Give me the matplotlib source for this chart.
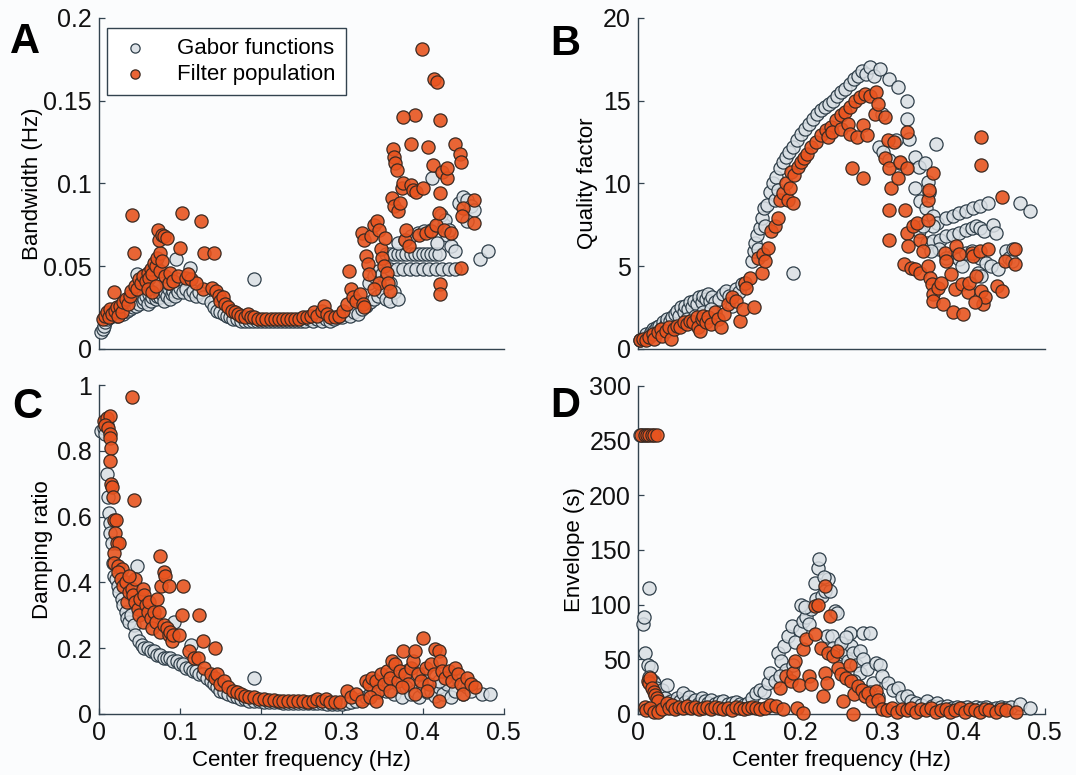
import numpy as np
import matplotlib
matplotlib.use("Agg")
import matplotlib.pyplot as plt

# (center frequency Hz, value) pairs

# A: bandwidth (Hz)
a_gabor = [
    (0.003, 0.010), (0.005, 0.012), (0.006, 0.014), (0.008, 0.016), (0.010, 0.018), (0.012, 0.020),
    (0.014, 0.019), (0.016, 0.022), (0.018, 0.021), (0.020, 0.023), (0.022, 0.020), (0.024, 0.024),
    (0.026, 0.022), (0.028, 0.025), (0.030, 0.021), (0.032, 0.026), (0.034, 0.023), (0.036, 0.027),
    (0.038, 0.024), (0.040, 0.028), (0.042, 0.025), (0.044, 0.029), (0.046, 0.026), (0.048, 0.030),
    (0.050, 0.027), (0.052, 0.031), (0.054, 0.028), (0.056, 0.030), (0.058, 0.032), (0.060, 0.027),
    (0.062, 0.033), (0.064, 0.029), (0.066, 0.031), (0.068, 0.034), (0.070, 0.030), (0.072, 0.032),
    (0.074, 0.035), (0.076, 0.031), (0.078, 0.033), (0.080, 0.029), (0.082, 0.034), (0.084, 0.032),
    (0.086, 0.036), (0.088, 0.030), (0.090, 0.033), (0.092, 0.035), (0.094, 0.032), (0.096, 0.036),
    (0.098, 0.034), (0.100, 0.037), (0.104, 0.034), (0.108, 0.036), (0.112, 0.033), (0.116, 0.035),
    (0.120, 0.032), (0.124, 0.034), (0.128, 0.031), (0.047, 0.045), (0.056, 0.044), (0.062, 0.046),
    (0.095, 0.054), (0.113, 0.049), (0.097, 0.042), (0.085, 0.040), (0.068, 0.038),
    (0.138, 0.028), (0.142, 0.025), (0.146, 0.023), (0.150, 0.022), (0.154, 0.021), (0.158, 0.020),
    (0.162, 0.019), (0.166, 0.018), (0.170, 0.018), (0.175, 0.017), (0.180, 0.017), (0.185, 0.017),
    (0.190, 0.017), (0.195, 0.017), (0.200, 0.017), (0.205, 0.017), (0.210, 0.017), (0.215, 0.017),
    (0.220, 0.017), (0.225, 0.017), (0.230, 0.017), (0.235, 0.017), (0.240, 0.017), (0.245, 0.017),
    (0.250, 0.017), (0.255, 0.017), (0.260, 0.018), (0.265, 0.017), (0.270, 0.018), (0.275, 0.017),
    (0.280, 0.018), (0.285, 0.017), (0.290, 0.018), (0.295, 0.019), (0.191, 0.042),
    (0.300, 0.019), (0.305, 0.021), (0.310, 0.020), (0.315, 0.022), (0.320, 0.021), (0.325, 0.024),
    (0.330, 0.026), (0.335, 0.028), (0.340, 0.030), (0.345, 0.032), (0.350, 0.034), (0.355, 0.030),
    (0.360, 0.029), (0.334, 0.040), (0.340, 0.044), (0.345, 0.047), (0.350, 0.045), (0.355, 0.043),
    (0.355, 0.057), (0.360, 0.057), (0.365, 0.057), (0.370, 0.057), (0.375, 0.057), (0.380, 0.057),
    (0.385, 0.057), (0.390, 0.057), (0.395, 0.057), (0.400, 0.057), (0.405, 0.057), (0.410, 0.057),
    (0.415, 0.057), (0.420, 0.057), (0.360, 0.048), (0.368, 0.048), (0.376, 0.048), (0.384, 0.048),
    (0.392, 0.048), (0.400, 0.048), (0.408, 0.048), (0.416, 0.048), (0.424, 0.048), (0.432, 0.048),
    (0.440, 0.048), (0.370, 0.064), (0.378, 0.066), (0.386, 0.068), (0.394, 0.070), (0.402, 0.071),
    (0.410, 0.072), (0.418, 0.074), (0.426, 0.075), (0.430, 0.069), (0.412, 0.103), (0.435, 0.062),
    (0.440, 0.059), (0.445, 0.088), (0.450, 0.092), (0.455, 0.090), (0.460, 0.086), (0.455, 0.077),
    (0.463, 0.084), (0.471, 0.054), (0.481, 0.059), (0.423, 0.081), (0.428, 0.078), (0.432, 0.072),
    (0.418, 0.064), (0.360, 0.040), (0.365, 0.034), (0.370, 0.030),
]
a_filter = [
    (0.005, 0.018), (0.008, 0.020), (0.010, 0.022), (0.012, 0.019), (0.014, 0.024), (0.016, 0.021),
    (0.018, 0.034), (0.020, 0.023), (0.022, 0.025), (0.024, 0.020), (0.026, 0.026), (0.028, 0.022),
    (0.030, 0.028), (0.033, 0.030), (0.036, 0.027), (0.038, 0.032), (0.041, 0.081), (0.043, 0.058),
    (0.040, 0.035), (0.044, 0.038), (0.047, 0.036), (0.050, 0.042), (0.052, 0.040), (0.055, 0.044),
    (0.058, 0.041), (0.060, 0.046), (0.062, 0.043), (0.064, 0.048), (0.066, 0.045), (0.068, 0.052),
    (0.070, 0.050), (0.072, 0.055), (0.073, 0.072), (0.075, 0.058), (0.074, 0.066), (0.078, 0.069),
    (0.080, 0.068), (0.084, 0.067), (0.076, 0.047), (0.078, 0.053), (0.082, 0.044), (0.086, 0.040),
    (0.088, 0.046), (0.092, 0.041), (0.060, 0.036), (0.066, 0.034), (0.070, 0.038), (0.100, 0.061),
    (0.103, 0.082), (0.098, 0.044), (0.108, 0.043), (0.114, 0.042), (0.126, 0.077), (0.130, 0.058),
    (0.142, 0.058), (0.128, 0.036), (0.120, 0.040), (0.110, 0.045),
    (0.140, 0.037), (0.145, 0.035), (0.148, 0.032), (0.150, 0.029), (0.153, 0.031), (0.156, 0.027),
    (0.160, 0.025), (0.164, 0.023), (0.168, 0.022), (0.172, 0.021), (0.176, 0.020), (0.180, 0.019),
    (0.184, 0.021), (0.188, 0.019), (0.192, 0.019), (0.197, 0.018), (0.202, 0.018), (0.207, 0.018),
    (0.212, 0.018), (0.217, 0.018), (0.222, 0.018), (0.227, 0.018), (0.232, 0.018), (0.237, 0.018),
    (0.242, 0.018), (0.247, 0.018), (0.252, 0.019), (0.257, 0.019), (0.262, 0.020), (0.266, 0.022),
    (0.270, 0.020), (0.275, 0.023), (0.278, 0.026), (0.282, 0.021), (0.286, 0.019), (0.292, 0.019),
    (0.296, 0.020), (0.302, 0.023), (0.306, 0.027), (0.309, 0.047), (0.311, 0.036), (0.314, 0.031),
    (0.318, 0.029), (0.322, 0.033), (0.326, 0.027), (0.328, 0.025), (0.325, 0.070), (0.327, 0.066),
    (0.330, 0.056), (0.332, 0.051), (0.334, 0.045), (0.336, 0.068), (0.340, 0.075), (0.343, 0.077),
    (0.346, 0.072), (0.348, 0.060), (0.350, 0.055), (0.352, 0.050), (0.346, 0.040), (0.340, 0.036),
    (0.354, 0.067), (0.356, 0.046), (0.357, 0.040), (0.360, 0.035), (0.362, 0.091), (0.364, 0.086),
    (0.363, 0.121), (0.364, 0.116), (0.366, 0.112), (0.368, 0.108), (0.370, 0.083), (0.372, 0.088),
    (0.374, 0.097), (0.376, 0.100), (0.378, 0.066), (0.380, 0.072), (0.383, 0.062), (0.385, 0.099),
    (0.388, 0.096), (0.390, 0.141), (0.376, 0.140), (0.386, 0.124), (0.392, 0.095), (0.395, 0.069),
    (0.399, 0.181), (0.400, 0.097), (0.404, 0.070), (0.407, 0.122), (0.410, 0.071), (0.413, 0.111),
    (0.414, 0.163), (0.418, 0.161), (0.416, 0.075), (0.420, 0.082), (0.421, 0.138), (0.422, 0.094),
    (0.422, 0.039), (0.422, 0.033), (0.424, 0.107), (0.426, 0.072), (0.430, 0.103), (0.430, 0.109),
    (0.440, 0.124), (0.446, 0.118), (0.447, 0.113), (0.447, 0.049), (0.450, 0.085), (0.449, 0.080),
    (0.463, 0.090), (0.463, 0.076), (0.435, 0.070),
]

# B: quality factor
b_gabor = [
    (0.002, 0.5), (0.005, 0.6), (0.008, 0.7), (0.010, 0.9), (0.013, 0.8), (0.016, 1.0), (0.018, 1.2),
    (0.020, 1.1), (0.023, 1.3), (0.026, 1.4), (0.028, 1.2), (0.031, 1.6), (0.034, 1.5), (0.036, 1.8),
    (0.039, 1.7), (0.042, 1.9), (0.045, 2.1), (0.048, 2.3), (0.050, 2.0), (0.053, 2.5), (0.056, 2.2),
    (0.058, 2.6), (0.061, 2.4), (0.064, 2.8), (0.066, 2.5), (0.069, 2.9), (0.072, 2.7), (0.075, 3.1),
    (0.078, 2.8), (0.080, 3.2), (0.083, 3.0), (0.086, 3.3), (0.088, 2.9), (0.091, 3.1), (0.095, 2.8),
    (0.100, 3.0), (0.104, 3.3), (0.108, 3.5), (0.112, 3.2), (0.116, 2.6), (0.120, 3.6), (0.124, 3.4),
    (0.128, 3.9), (0.132, 4.0), (0.060, 1.8), (0.070, 2.0), (0.080, 2.2), (0.090, 2.4), (0.190, 4.6),
    (0.140, 5.3), (0.142, 5.9), (0.144, 6.4), (0.146, 6.9), (0.150, 7.3), (0.152, 7.9), (0.155, 8.5),
    (0.158, 8.7), (0.162, 9.5), (0.166, 10.0), (0.170, 10.4), (0.174, 10.9), (0.178, 11.3),
    (0.182, 11.6), (0.186, 11.9), (0.190, 12.2), (0.195, 12.6), (0.200, 13.0), (0.205, 13.3),
    (0.210, 13.6), (0.215, 13.9), (0.220, 14.2), (0.225, 14.4), (0.230, 14.6), (0.235, 14.8),
    (0.240, 15.0), (0.245, 15.3), (0.250, 15.5), (0.255, 15.7), (0.260, 16.0), (0.265, 16.3),
    (0.270, 16.5), (0.275, 16.8), (0.280, 16.6), (0.285, 17.0), (0.290, 16.5), (0.297, 16.9),
    (0.168, 9.0), (0.172, 9.6), (0.148, 6.0), (0.156, 7.4),
    (0.309, 16.3), (0.319, 15.8), (0.331, 15.0), (0.331, 13.9), (0.333, 12.7), (0.341, 11.6),
    (0.345, 11.0), (0.353, 11.2), (0.356, 10.1), (0.366, 12.4), (0.296, 12.2), (0.301, 11.9),
    (0.309, 11.4), (0.322, 11.2), (0.340, 9.7), (0.346, 8.9), (0.354, 8.5), (0.362, 8.0),
    (0.368, 7.6), (0.300, 14.2), (0.317, 12.6), (0.358, 9.5), (0.362, 7.4),
    (0.355, 6.4), (0.363, 6.5), (0.371, 6.6), (0.379, 6.8), (0.387, 6.9), (0.395, 7.0), (0.403, 7.2),
    (0.411, 7.3), (0.415, 7.4), (0.420, 7.3), (0.425, 7.1), (0.379, 7.9), (0.387, 8.0), (0.395, 8.2),
    (0.403, 8.3), (0.412, 8.5), (0.420, 8.6), (0.430, 8.8), (0.469, 8.8), (0.482, 8.3), (0.436, 7.5),
    (0.440, 7.0), (0.387, 5.6), (0.395, 5.4), (0.403, 5.8), (0.411, 5.9), (0.420, 5.5), (0.428, 5.2),
    (0.434, 5.0), (0.442, 4.8), (0.452, 5.9), (0.456, 5.5), (0.460, 5.3), (0.398, 5.0), (0.418, 4.6),
    (0.422, 4.4), (0.370, 6.0), (0.345, 7.1), (0.350, 7.4), (0.360, 5.9), (0.378, 5.5), (0.461, 6.0),
]
b_filter = [
    (0.002, 0.5), (0.006, 0.6), (0.010, 0.5), (0.014, 0.7), (0.018, 0.9), (0.020, 0.6), (0.024, 1.0),
    (0.028, 1.2), (0.030, 0.8), (0.034, 1.1), (0.038, 1.3), (0.041, 0.56), (0.044, 1.2), (0.048, 1.4),
    (0.052, 1.3), (0.056, 1.6), (0.060, 1.5), (0.064, 1.7), (0.068, 1.6), (0.072, 1.9), (0.074, 1.3),
    (0.076, 1.1), (0.078, 1.8), (0.080, 2.0), (0.084, 1.6), (0.086, 1.9), (0.090, 1.5), (0.094, 2.2),
    (0.098, 1.8), (0.102, 1.3), (0.106, 2.1), (0.111, 2.7), (0.115, 3.1), (0.121, 2.9), (0.125, 1.7),
    (0.129, 2.4), (0.131, 4.0), (0.138, 4.3), (0.143, 2.5), (0.133, 3.7), (0.152, 4.6), (0.148, 5.5),
    (0.154, 5.7), (0.160, 6.1), (0.156, 5.3), (0.164, 7.1), (0.168, 7.4), (0.172, 7.9), (0.174, 9.0),
    (0.178, 9.4), (0.182, 10.0), (0.184, 9.0), (0.187, 9.7), (0.190, 8.8), (0.188, 10.7),
    (0.192, 10.5), (0.196, 11.0), (0.200, 11.3), (0.204, 11.5), (0.208, 11.8), (0.213, 12.2),
    (0.219, 12.5), (0.225, 12.9), (0.231, 13.2), (0.237, 13.4), (0.243, 13.8), (0.249, 14.1),
    (0.255, 14.3), (0.261, 14.6), (0.267, 15.0), (0.273, 15.2), (0.279, 15.4), (0.285, 15.3),
    (0.293, 15.5), (0.233, 12.8), (0.238, 13.1), (0.250, 13.3), (0.258, 13.6), (0.261, 13.0),
    (0.269, 12.8), (0.277, 13.5), (0.281, 12.9), (0.263, 10.9), (0.276, 10.3), (0.291, 14.2),
    (0.295, 14.8), (0.303, 14.0),
    (0.307, 12.6), (0.315, 12.5), (0.303, 11.5), (0.309, 10.9), (0.311, 9.7), (0.319, 10.3),
    (0.322, 11.3), (0.330, 10.9), (0.330, 13.1), (0.309, 8.4), (0.309, 6.6), (0.328, 8.4), (0.330, 7.0),
    (0.332, 6.2), (0.327, 5.1), (0.335, 4.9), (0.341, 4.8), (0.347, 4.6), (0.338, 7.4), (0.343, 7.6),
    (0.346, 6.6), (0.350, 5.9), (0.356, 5.0), (0.357, 9.0), (0.357, 7.8), (0.362, 10.6), (0.358, 9.6),
    (0.359, 4.3), (0.361, 3.9), (0.363, 3.3), (0.363, 2.9), (0.369, 3.7), (0.375, 2.7), (0.377, 5.8),
    (0.379, 5.3), (0.387, 2.2), (0.389, 3.6), (0.391, 6.2), (0.399, 2.1), (0.398, 3.9), (0.405, 3.4),
    (0.407, 4.0), (0.410, 5.8), (0.412, 5.6), (0.416, 4.4), (0.420, 5.9), (0.422, 3.5), (0.424, 2.7),
    (0.426, 3.1), (0.414, 2.8), (0.430, 6.0), (0.422, 12.8), (0.422, 11.1), (0.447, 9.2), (0.441, 3.8),
    (0.447, 3.5), (0.451, 5.3), (0.463, 6.0), (0.463, 5.1), (0.395, 5.7), (0.385, 4.5), (0.372, 4.0),
]

# C: damping ratio
c_gabor = [
    (0.002, 0.86), (0.006, 0.87), (0.008, 0.85), (0.010, 0.88), (0.010, 0.73), (0.011, 0.66),
    (0.012, 0.61), (0.013, 0.58), (0.014, 0.55), (0.016, 0.52), (0.017, 0.46), (0.019, 0.42),
    (0.021, 0.41), (0.023, 0.39), (0.025, 0.37), (0.028, 0.35), (0.030, 0.33), (0.033, 0.31),
    (0.035, 0.29), (0.037, 0.28), (0.040, 0.30), (0.043, 0.27), (0.047, 0.45), (0.045, 0.24),
    (0.050, 0.22), (0.053, 0.21), (0.056, 0.20), (0.060, 0.20), (0.064, 0.19), (0.068, 0.19),
    (0.072, 0.18), (0.076, 0.18), (0.080, 0.17), (0.084, 0.17), (0.088, 0.17), (0.092, 0.16),
    (0.096, 0.16), (0.100, 0.15), (0.104, 0.15), (0.108, 0.14), (0.112, 0.14), (0.114, 0.21),
    (0.093, 0.28), (0.116, 0.13), (0.120, 0.13), (0.124, 0.12), (0.128, 0.12), (0.134, 0.11),
    (0.138, 0.10), (0.142, 0.09), (0.146, 0.08), (0.150, 0.07), (0.155, 0.065), (0.160, 0.06),
    (0.165, 0.055), (0.170, 0.05), (0.175, 0.045), (0.180, 0.045), (0.185, 0.04), (0.192, 0.109),
    (0.192, 0.040), (0.198, 0.038), (0.204, 0.037), (0.210, 0.036), (0.216, 0.035), (0.222, 0.035),
    (0.228, 0.034), (0.234, 0.034), (0.240, 0.034), (0.246, 0.034), (0.252, 0.033), (0.258, 0.033),
    (0.264, 0.033), (0.270, 0.032), (0.276, 0.032), (0.282, 0.031), (0.288, 0.031), (0.294, 0.030),
    (0.300, 0.031), (0.306, 0.034), (0.312, 0.036), (0.318, 0.040), (0.324, 0.045),
    (0.330, 0.050), (0.335, 0.060), (0.340, 0.070), (0.345, 0.065), (0.350, 0.080), (0.355, 0.070),
    (0.360, 0.085), (0.365, 0.060), (0.370, 0.090), (0.375, 0.050), (0.380, 0.080), (0.385, 0.060),
    (0.390, 0.070), (0.395, 0.050), (0.400, 0.080), (0.405, 0.065), (0.410, 0.070), (0.415, 0.055),
    (0.420, 0.080), (0.425, 0.060), (0.430, 0.090), (0.435, 0.050), (0.440, 0.070), (0.445, 0.100),
    (0.450, 0.060), (0.455, 0.080), (0.460, 0.070), (0.473, 0.059), (0.483, 0.059), (0.340, 0.100),
    (0.360, 0.120), (0.380, 0.130), (0.400, 0.120), (0.420, 0.100),
]
c_filter = [
    (0.006, 0.89), (0.010, 0.90), (0.014, 0.905), (0.008, 0.88), (0.011, 0.87), (0.013, 0.85),
    (0.014, 0.84), (0.015, 0.81), (0.013, 0.77), (0.015, 0.70), (0.016, 0.69), (0.017, 0.66),
    (0.018, 0.59), (0.021, 0.59), (0.020, 0.55), (0.022, 0.52), (0.025, 0.52), (0.018, 0.49),
    (0.019, 0.46), (0.024, 0.45), (0.028, 0.44), (0.041, 0.963), (0.043, 0.651), (0.023, 0.43),
    (0.027, 0.41), (0.030, 0.39), (0.033, 0.40), (0.034, 0.34), (0.037, 0.37), (0.041, 0.38),
    (0.044, 0.41), (0.037, 0.42), (0.042, 0.36), (0.045, 0.34), (0.048, 0.32), (0.051, 0.35),
    (0.054, 0.38), (0.056, 0.36), (0.050, 0.30), (0.055, 0.28), (0.058, 0.33), (0.060, 0.31),
    (0.062, 0.34), (0.064, 0.29), (0.066, 0.26), (0.068, 0.31), (0.070, 0.28), (0.072, 0.35),
    (0.074, 0.31), (0.076, 0.48), (0.077, 0.39), (0.080, 0.43), (0.082, 0.42), (0.076, 0.25),
    (0.080, 0.27), (0.084, 0.26), (0.086, 0.24), (0.088, 0.25), (0.090, 0.22), (0.087, 0.39),
    (0.092, 0.24), (0.099, 0.24), (0.102, 0.30), (0.104, 0.39), (0.111, 0.19), (0.118, 0.17),
    (0.124, 0.30), (0.128, 0.22), (0.143, 0.20), (0.122, 0.17), (0.130, 0.14), (0.139, 0.12),
    (0.143, 0.11), (0.146, 0.12), (0.150, 0.09), (0.155, 0.10), (0.160, 0.08), (0.165, 0.07),
    (0.170, 0.065), (0.175, 0.06), (0.180, 0.055), (0.186, 0.05), (0.192, 0.05), (0.198, 0.045),
    (0.204, 0.044), (0.210, 0.042), (0.216, 0.041), (0.222, 0.040), (0.228, 0.039), (0.234, 0.039),
    (0.240, 0.038), (0.246, 0.038), (0.252, 0.038), (0.258, 0.037), (0.264, 0.040), (0.270, 0.045),
    (0.276, 0.038), (0.280, 0.044), (0.286, 0.036), (0.292, 0.035), (0.298, 0.037),
    (0.306, 0.070), (0.312, 0.050), (0.318, 0.060), (0.325, 0.040), (0.330, 0.100), (0.334, 0.090),
    (0.338, 0.110), (0.342, 0.100), (0.345, 0.070), (0.348, 0.120), (0.352, 0.090), (0.356, 0.130),
    (0.360, 0.110), (0.362, 0.160), (0.366, 0.150), (0.370, 0.100), (0.372, 0.130), (0.376, 0.190),
    (0.378, 0.120), (0.382, 0.090), (0.386, 0.140), (0.388, 0.160), (0.390, 0.190), (0.394, 0.120),
    (0.398, 0.100), (0.400, 0.231), (0.404, 0.140), (0.408, 0.090), (0.410, 0.150), (0.414, 0.120),
    (0.415, 0.197), (0.420, 0.190), (0.422, 0.160), (0.424, 0.130), (0.428, 0.110), (0.432, 0.130),
    (0.436, 0.100), (0.440, 0.140), (0.444, 0.120), (0.448, 0.090), (0.450, 0.060), (0.455, 0.110),
    (0.460, 0.090), (0.465, 0.080), (0.420, 0.040), (0.405, 0.070), (0.390, 0.060), (0.375, 0.080),
    (0.360, 0.070), (0.335, 0.050), (0.342, 0.040),
]

# D: envelope (s)
d_gabor = [
    (0.002, 255), (0.006, 255), (0.006, 82), (0.007, 89), (0.009, 56), (0.012, 45), (0.014, 115),
    (0.016, 43), (0.014, 34), (0.018, 30), (0.020, 28), (0.022, 24), (0.024, 20), (0.026, 18),
    (0.028, 16), (0.030, 22), (0.033, 14), (0.036, 26), (0.040, 12), (0.044, 10), (0.048, 14),
    (0.052, 12), (0.055, 19), (0.058, 11), (0.062, 15), (0.066, 10), (0.070, 13), (0.074, 9),
    (0.078, 14), (0.082, 12), (0.086, 10), (0.090, 13), (0.095, 9), (0.100, 11), (0.105, 12),
    (0.110, 9), (0.115, 10), (0.120, 11), (0.125, 9), (0.130, 8), (0.135, 10), (0.140, 14),
    (0.145, 19), (0.150, 22), (0.155, 20), (0.160, 28), (0.162, 37.5), (0.168, 30), (0.172, 55.8),
    (0.176, 48), (0.180, 62), (0.184, 71), (0.189, 80), (0.193, 66), (0.199, 77), (0.203, 85),
    (0.207, 89), (0.210, 82), (0.213, 95.5), (0.217, 120), (0.219, 104.7), (0.221, 133.7),
    (0.223, 141.3), (0.226, 108), (0.230, 112), (0.234, 123), (0.236, 112), (0.232, 71), (0.238, 71),
    (0.242, 94), (0.244, 92.5), (0.248, 62), (0.251, 55), (0.254, 55.8), (0.258, 48), (0.260, 74),
    (0.262, 62), (0.264, 56), (0.268, 45), (0.273, 57), (0.273, 37.5), (0.277, 74), (0.277, 50),
    (0.281, 40.6), (0.285, 74), (0.289, 28.4), (0.293, 46.7), (0.297, 45), (0.300, 35),
    (0.307, 28.4), (0.313, 22), (0.320, 23.8), (0.325, 15), (0.330, 16), (0.336, 12), (0.342, 10),
    (0.348, 8), (0.355, 11.6), (0.361, 7), (0.367, 10), (0.373, 6), (0.380, 7), (0.386, 5),
    (0.392, 6), (0.398, 5), (0.404, 6), (0.410, 4), (0.416, 6), (0.422, 5), (0.428, 6), (0.434, 4),
    (0.440, 5), (0.446, 6), (0.452, 5), (0.458, 6), (0.469, 8.5), (0.482, 5.5), (0.200, 100),
    (0.205, 98), (0.228, 125), (0.240, 60), (0.250, 65), (0.256, 70), (0.265, 30), (0.285, 20),
    (0.295, 15), (0.182, 40), (0.174, 35), (0.190, 45),
]
d_filter = [
    (0.004, 255), (0.008, 255), (0.011, 255), (0.014, 255), (0.017, 255), (0.020, 255), (0.023, 255),
    (0.008, 6), (0.010, 3), (0.012, 30), (0.013, 28), (0.015, 33), (0.017, 24), (0.019, 20),
    (0.021, 17), (0.023, 14), (0.025, 12), (0.015, 5), (0.020, 2), (0.025, 2), (0.030, 4),
    (0.035, 10), (0.038, 5), (0.042, 8), (0.046, 4), (0.050, 6), (0.055, 5), (0.060, 7), (0.065, 5),
    (0.070, 6), (0.075, 4), (0.080, 5), (0.085, 6), (0.090, 4), (0.095, 6), (0.100, 5), (0.105, 4),
    (0.110, 5), (0.115, 3), (0.120, 6), (0.125, 5), (0.130, 4), (0.135, 5), (0.140, 6), (0.145, 5),
    (0.150, 4), (0.156, 5), (0.162, 8), (0.170, 7), (0.174, 23.8), (0.178, 4), (0.182, 34.5),
    (0.188, 30), (0.191, 37.5), (0.193, 48.2), (0.195, 5.5), (0.198, 26), (0.203, 1), (0.203, 58.9),
    (0.207, 68), (0.210, 35), (0.213, 26.9), (0.217, 72.6), (0.217, 98.6), (0.221, 100), (0.225, 60),
    (0.227, 16.2), (0.230, 117), (0.230, 37.5), (0.232, 28.4), (0.236, 89.4), (0.234, 55.8),
    (0.240, 52.8), (0.244, 57.4), (0.246, 42), (0.250, 36), (0.252, 11.6), (0.256, 33), (0.260, 45),
    (0.262, 30), (0.264, 0), (0.266, 18), (0.270, 25), (0.275, 22), (0.279, 16), (0.283, 19),
    (0.287, 12), (0.293, 21), (0.295, 13), (0.300, 4), (0.306, 3), (0.312, 5), (0.318, 2), (0.324, 4),
    (0.330, 3), (0.336, 5), (0.342, 2), (0.348, 4), (0.354, 3), (0.360, 5), (0.366, 2), (0.372, 3),
    (0.378, 4), (0.384, 2), (0.390, 3), (0.396, 5), (0.402, 2), (0.408, 4), (0.414, 3), (0.420, 2),
    (0.426, 4), (0.432, 3), (0.440, 2), (0.446, 4), (0.452, 3), (0.465, 2),
]

x_ticks = [0, 0.1, 0.2, 0.3, 0.4, 0.5]
x_ticklabels = ["0", "0.1", "0.2", "0.3", "0.4", "0.5"]

panels = [
    ("A", a_gabor, a_filter, "Bandwidth (Hz)", [0, 0.05, 0.1, 0.15, 0.2],
     ["0", "0.05", "0.1", "0.15", "0.2"]),
    ("B", b_gabor, b_filter, "Quality factor", [0, 5, 10, 15, 20],
     ["0", "5", "10", "15", "20"]),
    ("C", c_gabor, c_filter, "Damping ratio", [0, 0.2, 0.4, 0.6, 0.8, 1],
     ["0", "0.2", "0.4", "0.6", "0.8", "1"]),
    ("D", d_gabor, d_filter, "Envelope (s)", [0, 50, 100, 150, 200, 250, 300],
     ["0", "50", "100", "150", "200", "250", "300"]),
]

plt.rcParams["font.family"] = ["Liberation Sans", "DejaVu Sans"]
plt.rcParams["font.size"] = 16

gray_fill = (0.85, 0.875, 0.895, 0.85)
gray_edge = "#2f3f4a"
orange_fill = (0.91, 0.33, 0.12, 0.9)
orange_edge = "#3b2a22"
axis_col = "#33434f"

fig = plt.figure(figsize=(10.76, 7.75), dpi=100)
fig.patch.set_facecolor("#fbfcfd")

# axes rectangles in figure fractions: left, bottom, width, height
rects = [
    (0.092, 0.550, 0.376, 0.427),
    (0.593, 0.550, 0.378, 0.427),
    (0.092, 0.079, 0.376, 0.424),
    (0.593, 0.079, 0.378, 0.423),
]
ylabel_x = [-0.138, -0.098, -0.113, -0.13]
letter_pos = [(10, 53), (550, 55), (12, 418), (550, 417)]

for i, (letter, gab, filt, ylabel, yt, ytl) in enumerate(panels):
    ax = fig.add_axes(rects[i])
    ax.set_facecolor("none")
    gx, gy = np.array(gab).T
    fx, fy = np.array(filt).T
    ax.scatter(gx, gy, s=90, c=[gray_fill], edgecolors=gray_edge, linewidths=0.9,
               clip_on=False, zorder=3, label="Gabor functions")
    ax.scatter(fx, fy, s=90, c=[orange_fill], edgecolors=orange_edge, linewidths=0.9,
               clip_on=False, zorder=4, label="Filter population")
    ax.set_xlim(0, 0.5)
    ax.set_ylim(yt[0], yt[-1])
    ax.set_yticks(yt)
    ax.set_yticklabels(ytl)
    for side in ["top", "right"]:
        ax.spines[side].set_visible(False)
    for side in ["left", "bottom"]:
        ax.spines[side].set_color(axis_col)
        ax.spines[side].set_linewidth(1.0)
    ax.tick_params(direction="in", length=4, width=0.9, color=axis_col, pad=5,
                   labelcolor="#111111", labelsize=18)
    if i < 2:
        ax.set_xticks([])
    else:
        ax.set_xticks(x_ticks)
        ax.set_xticklabels(x_ticklabels)
        ax.set_xlabel("Center frequency (Hz)", labelpad=4)
    ax.set_ylabel(ylabel)
    ax.yaxis.set_label_coords(ylabel_x[i], 0.5)
    fig.text(letter_pos[i][0] / 1076, 1 - letter_pos[i][1] / 775, letter,
             fontsize=30, fontweight="bold", ha="left", va="baseline")
    if i == 0:
        leg = ax.legend(loc="upper left", bbox_to_anchor=(0.02, 0.97), borderaxespad=0,
                        fancybox=False, framealpha=1, edgecolor=axis_col,
                        markerscale=0.7, handlelength=1.6, handletextpad=1.1,
                        borderpad=0.45, labelspacing=0.25, fontsize=16)
        leg.get_frame().set_linewidth(1.0)
        leg.set_zorder(10)

fig.savefig("out.png", dpi=100, facecolor=fig.get_facecolor())
